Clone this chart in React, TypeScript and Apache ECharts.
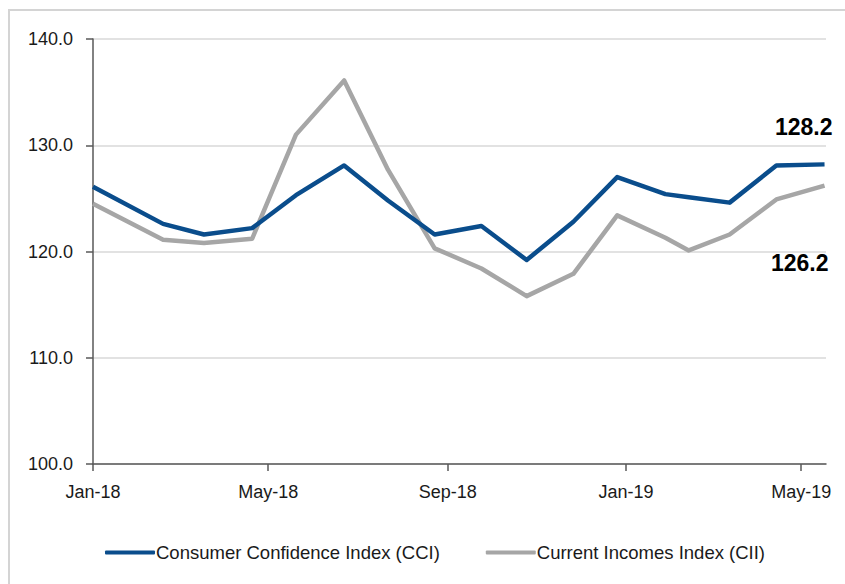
import React, { useEffect, useRef } from "react";
import * as echarts from "echarts";

// Survey dates (x positions on a date axis)
const dates = [
  "2018-01-01", "2018-02-18", "2018-03-18", "2018-04-20", "2018-05-20",
  "2018-06-22", "2018-07-22", "2018-08-23", "2018-09-24", "2018-10-25",
  "2018-11-26", "2018-12-26", "2019-01-28", "2019-02-13", "2019-03-13",
  "2019-04-14", "2019-05-17",
];
const cci = [
  126.1, 122.6, 121.6, 122.2, 125.3, 128.1, 124.8, 121.6, 122.4, 119.2,
  122.8, 127.0, 125.4, 125.1, 124.6, 128.1, 128.2,
];
const cii = [
  124.5, 121.1, 120.8, 121.2, 131.0, 136.1, 127.7, 120.3, 118.4, 115.8,
  117.9, 123.4, 121.3, 120.1, 121.6, 124.9, 126.2,
];
const tickDates = ["2018-01-01", "2018-05-01", "2018-09-01", "2019-01-01", "2019-05-01"];
const tickLabels = ["Jan-18", "May-18", "Sep-18", "Jan-19", "May-19"];
const axisStart = "2018-01-01";
const axisEnd = "2019-05-18";
const seriesNames = ["Consumer Confidence Index (CCI)", "Current Incomes Index (CII)"];
const lastLabels = ["128.2", "126.2"];

const dayOf = (s: string) => {
  const [y, m, d] = s.split("-").map(Number);
  const [y0, m0, d0] = axisStart.split("-").map(Number);
  return (Date.UTC(y, m - 1, d) - Date.UTC(y0, m0 - 1, d0)) / 86400000;
};

const FONT = "'Liberation Sans Narrow', 'Arial Narrow', 'Liberation Sans', Arial, sans-serif";

export default function App() {
  const ref = useRef<HTMLDivElement>(null);
  useEffect(() => {
    if (!ref.current) return;
    const chart = echarts.init(ref.current, null, { renderer: "svg" });
    const tickDays = tickDates.map(dayOf);
    const labelFor = (v: number) => {
      const i = tickDays.findIndex((t) => Math.abs(t - v) < 0.5);
      return i >= 0 ? tickLabels[i] : "";
    };
    chart.setOption({
      animation: false,
      backgroundColor: "#ffffff",
      grid: { left: 93, right: 19, top: 39, bottom: 120, containLabel: false },
      xAxis: {
        type: "value",
        min: 0,
        max: dayOf(axisEnd),
        axisLine: { show: true, onZero: false, lineStyle: { color: "#595959", width: 1.5 } },
        axisTick: { show: true, customValues: tickDays, length: 7, lineStyle: { color: "#595959", width: 1.5 } },
        axisLabel: {
          customValues: tickDays,
          formatter: (v: number) => labelFor(v),
          fontFamily: FONT,
          fontSize: 18,
          color: "#1a1a1a",
          margin: 19,
        },
        splitLine: { show: false },
      },
      yAxis: {
        type: "value",
        min: 100,
        max: 140,
        interval: 10,
        axisLine: { show: true, lineStyle: { color: "#595959", width: 1.5 } },
        axisTick: { show: true, length: 7, lineStyle: { color: "#595959", width: 1.5 } },
        axisLabel: {
          formatter: (v: number) => v.toFixed(1),
          fontFamily: FONT,
          fontSize: 18,
          color: "#1a1a1a",
          margin: 20,
        },
        splitLine: { show: true, lineStyle: { color: "#d9d9d9", width: 1.5 } },
      },
      legend: {
        left: 100,
        top: 538,
        itemWidth: 50,
        itemHeight: 4,
        itemGap: 46,
        icon: "roundRect",
        textStyle: { fontFamily: FONT, fontSize: 18.5, color: "#1a1a1a", padding: [0, 0, 0, -4] },
        data: seriesNames,
      },
      series: [
        {
          name: seriesNames[0],
          type: "line",
          symbol: "none",
          data: dates.map((d, i) => [dayOf(d), cci[i]]),
          lineStyle: { color: "#0a4d8c", width: 4.5, join: "round" },
          itemStyle: { color: "#0a4d8c" },
          z: 3,
        },
        {
          name: seriesNames[1],
          type: "line",
          symbol: "none",
          data: dates.map((d, i) => [dayOf(d), cii[i]]),
          lineStyle: { color: "#a6a6a6", width: 4.5, join: "round" },
          itemStyle: { color: "#a6a6a6" },
          z: 2,
        },
      ],
      graphic: [
        {
          type: "rect",
          silent: true,
          shape: { x: 9, y: 10, width: 900, height: 700 },
          style: { fill: "none", stroke: "#d4d4d4", lineWidth: 2 },
        },
        {
          type: "text",
          left: 775,
          top: 115,
          style: { text: lastLabels[0], fontFamily: FONT, fontSize: 23, fontWeight: "bold", fill: "#000" },
        },
        {
          type: "text",
          left: 771,
          top: 251,
          style: { text: lastLabels[1], fontFamily: FONT, fontSize: 23, fontWeight: "bold", fill: "#000" },
        },
      ],
    });
    return () => chart.dispose();
  }, []);
  return (
    <div
      ref={ref}
      style={{ position: "fixed", left: 0, top: 0, width: 845, height: 584, background: "#fff" }}
    />
  );
}
